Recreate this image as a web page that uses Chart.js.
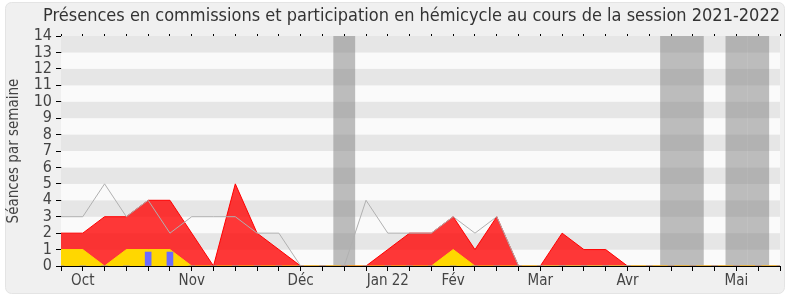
<!DOCTYPE html>
<html>
<head>
<meta charset="utf-8">
<script src="https://cdn.jsdelivr.net/npm/chart.js@4.4.1/dist/chart.umd.min.js"></script>
<style>
  html, body { margin: 0; padding: 0; background: #fff; }
  #wrap { width: 790px; height: 300px; }
</style>
</head>
<body>
<div id="wrap"><canvas id="presenceChart"></canvas></div>
<script>
// one entry per week, Sept 2021 -> May 2022
const weekLabels = ['', 'Oct', '', '', '', '', 'Nov', '', '', '', '', 'Déc', '', '', '', 'Jan 22', '', '',
  'Fév', '', '', '', 'Mar', '', '', '', 'Avr', '', '', '', '', 'Mai', '', ''];
const commissions = [2, 2, 3, 3, 4, 4, 2, 0, 5, 2, 1, 0, 0, 0, 0, 1, 2, 2, 3, 1, 3, 0, 0, 2, 1, 1, 0, 0, 0, 0, 0, 0, 0, 0];
const hemicycle = [3, 3, 5, 3, 4, 2, 3, 3, 3, 2, 2, 0, 0, 0, 4, 2, 2, 2, 3, 2, 3, 0, 0, 0, 0, 0, 0, 0, 0, 0, 0, 0, 0, 0];
const interventions = [1, 1, 0, 1, 1, 1, 0, 0, 0, 0, 0, 0, 0, 0, 0, 0, 0, 0, 1, 0, 0, 0, 0, 0, 0, 0, 0, 0, 0, 0, 0, 0, 0, 0];
const questions = [0, 0, 0, 0, 0.85, 0.85, 0, 0, 0, 0, 0, 0, 0, 0, 0, 0, 0, 0, 0, 0, 0, 0, 0, 0, 0, 0, 0, 0, 0, 0, 0, 0, 0, 0];
const vacationWeeks = [13, 28, 29, 31, 32];
const yMax = 14;

const FONT = "'DejaVu Sans Condensed', 'DejaVu Sans', sans-serif";

const frame = {
  id: 'frame',
  beforeDraw(chart) {
    const ctx = chart.ctx;
    ctx.save();
    ctx.fillStyle = '#fff';
    ctx.fillRect(0, 0, chart.width, chart.height);
    ctx.beginPath();
    ctx.roundRect(5.5, 2.5, 779, 291, 6);
    ctx.fillStyle = '#f0f0f0';
    ctx.fill();
    ctx.strokeStyle = '#e4e4e4';
    ctx.stroke();
    ctx.restore();
  }
};

const bands = {
  id: 'bands',
  beforeDatasetsDraw(chart) {
    const { ctx, chartArea: a, scales: { x, y } } = chart;
    ctx.save();
    for (let v = 0; v < yMax; v++) {
      ctx.fillStyle = v % 2 ? '#e6e6e6' : '#fafafa';
      const top = y.getPixelForValue(v + 1), bot = y.getPixelForValue(v);
      ctx.fillRect(a.left, top, a.right - a.left, bot - top);
    }
    ctx.fillStyle = 'rgba(125,125,125,0.5)';
    vacationWeeks.forEach(w => {
      const l = x.getPixelForValue(w - 0.5), r = x.getPixelForValue(w + 0.5);
      ctx.fillRect(l, a.top, r - l, a.bottom - a.top);
    });
    ctx.restore();
  }
};

new Chart(document.getElementById('presenceChart'), {
  type: 'line',
  data: {
    labels: weekLabels,
    datasets: [
      {
        label: 'Présences en commission',
        data: commissions,
        borderColor: '#ff0000',
        backgroundColor: 'rgba(255,0,0,0.78)',
        borderWidth: 1,
        fill: 'origin',
        pointRadius: 0,
        order: 4
      },
      {
        label: 'Participation en hémicycle',
        data: hemicycle,
        borderColor: '#b0b0b0',
        borderWidth: 1,
        fill: false,
        pointRadius: 0,
        order: 3
      },
      {
        label: 'Interventions',
        data: interventions,
        borderColor: '#ffd700',
        backgroundColor: '#ffd700',
        borderWidth: 1,
        fill: 'origin',
        pointRadius: 0,
        order: 2
      },
      {
        type: 'bar',
        label: 'Questions',
        data: questions,
        backgroundColor: '#6b6bff',
        barThickness: 6,
        order: 1
      }
    ]
  },
  options: {
    responsive: true,
    maintainAspectRatio: false,
    animation: false,
    layout: { padding: { left: 5, right: 10, top: 0, bottom: 0 } },
    plugins: {
      legend: { display: false },
      tooltip: { enabled: false },
      title: {
        display: true,
        align: 'end',
        text: 'Présences en commissions et participation en hémicycle au cours de la session 2021-2022',
        color: '#333',
        font: { family: FONT, size: 18, weight: 'normal' },
        padding: { top: 6, bottom: 0 }
      }
    },
    scales: {
      x: {
        type: 'category',
        offset: false,
        afterFit: s => { s.height = 34; },
        grid: { drawOnChartArea: false, offset: false, tickLength: 5, color: '#000' },
        border: { color: '#000' },
        ticks: { autoSkip: false, maxRotation: 0, padding: 1, color: '#444', font: { family: FONT, size: 15 } }
      },
      xTop: {
        type: 'category',
        position: 'top',
        offset: false,
        afterFit: s => { s.height = 8.4; },
        grid: { drawOnChartArea: false, offset: false, tickLength: 2, color: '#000' },
        border: { display: false },
        ticks: { display: false, autoSkip: false }
      },
      y: {
        min: 0,
        max: yMax,
        afterFit: s => { s.width = 56; },
        grid: { drawOnChartArea: false, tickLength: 5, color: '#000' },
        border: { color: '#000' },
        ticks: { stepSize: 1, autoSkip: false, padding: 4, color: '#444', font: { family: FONT, size: 16 } },
        title: {
          display: true,
          text: 'Séances par semaine',
          color: '#444',
          padding: 0,
          font: { family: FONT, size: 15 }
        }
      }
    }
  },
  plugins: [frame, bands]
});
</script>
</body>
</html>
